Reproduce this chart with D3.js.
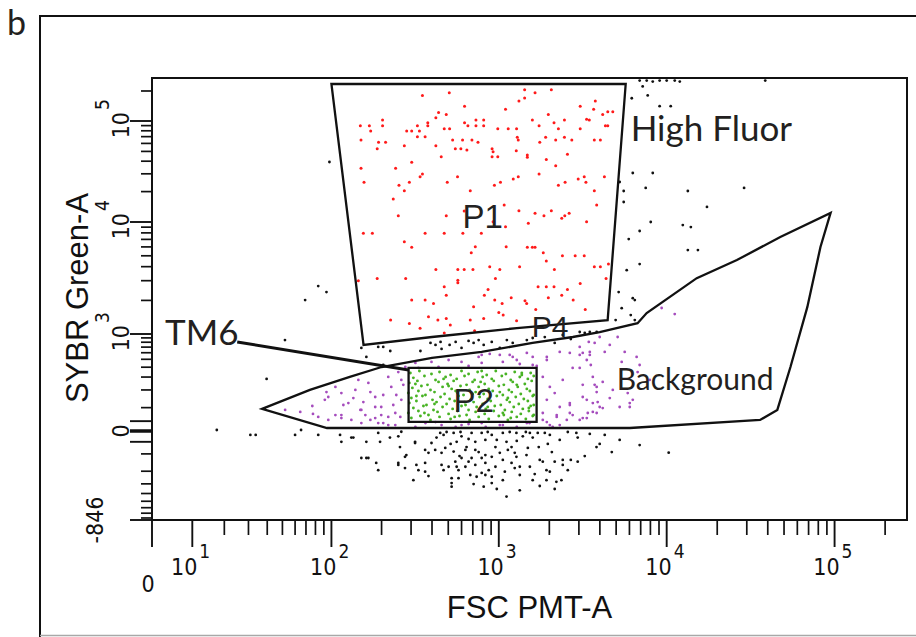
<!DOCTYPE html>
<html>
<head>
<meta charset="utf-8">
<script src="https://cdn.jsdelivr.net/npm/d3@7"></script>
<style>
  html, body { margin: 0; padding: 0; background: #fff; }
  svg { display: block; }
</style>
</head>
<body>
<svg id="chart" width="916" height="637"></svg>
<script>
// ---------------- data ----------------
// Axis ticks (FSC PMT-A, SYBR Green-A)
const xMajorTicks = [0, 10, 100, 1000, 10000, 100000];
const xTickExponents = [null, 1, 2, 3, 4, 5];
const yMajorTicks = [-846, 0, 1000, 10000, 100000];
const yTickExponents = [null, null, 3, 4, 5];
const yTickPlainLabels = ["-846", "0", null, null, null];
const yLongTicks = [40, -45];

// Gates: [FSC, SYBR]
const gateP1 = [[100, 235000], [5700, 235000], [4450, 1330], [1280, 1130], [400, 922], [156, 743]];
const gateP2 = [[290, 392], [1680, 392], [1680, 37], [290, 37]];
const gateP4 = [[37, 94], [74, 200], [129, 301], [200, 402], [400, 519], [790, 613], [1590, 785],
  [2760, 922], [3990, 1040], [6710, 1250], [7600, 1540], [15100, 3160], [26200, 4580], [47500, 7350],
  [94700, 12300], [82400, 5990], [68800, 1740], [54600, 402], [45600, 89], [36000, 45], [6030, 12],
  [94, 12]];
const tm6Leader = [[25, 807], [290, 370]];

// P1 (High Fluor) events: [log10 FSC, log10 SYBR]
const p1Events = [
  [2.545,5.257],[2.705,5.284],[3.154,5.314],[3.216,5.284],[3.313,5.314],[3.120,5.201],[3.154,5.231],
  [2.796,5.149],[3.040,5.119],[3.485,5.149],[3.575,5.201],[2.641,5.086],[2.687,5.066],[2.625,5.033],
  [3.295,5.066],[3.565,5.119],[3.619,5.066],[3.649,5.092],[3.679,5.092],[3.523,5.017],[3.539,5.010],
  [2.174,4.954],[2.228,4.954],[2.307,5.010],[2.307,4.954],[2.515,4.954],[2.577,4.983],[2.577,4.954],
  [2.675,4.924],[2.707,4.924],[2.796,4.983],[2.816,4.954],[2.864,5.010],[2.864,4.954],[2.910,5.010],
  [2.910,4.954],[2.994,4.924],[3.056,4.924],[3.106,4.924],[3.200,5.010],[3.240,4.954],[3.329,4.983],
  [3.391,5.010],[3.355,4.924],[3.485,4.924],[3.635,4.954],[3.649,4.954],[2.236,4.901],[2.451,4.901],
  [2.481,4.901],[2.527,4.901],[2.515,4.845],[2.561,4.845],[2.283,4.789],[2.325,4.789],[2.275,4.726],
  [2.178,4.812],[2.437,4.756],[2.625,4.756],[2.725,4.812],[2.784,4.812],[2.741,4.726],[2.774,4.726],
  [2.810,4.713],[2.840,4.812],[2.876,4.789],[3.110,4.838],[3.116,4.812],[2.960,4.726],[2.966,4.696],
  [3.244,4.789],[3.279,4.838],[3.339,4.812],[3.391,4.838],[3.435,4.812],[3.569,4.812],[3.605,4.812],
  [3.104,4.706],[3.170,4.663],[3.170,4.640],[2.657,4.647],[2.960,4.647],[2.994,4.647],[3.283,4.620],
  [3.409,4.670],[2.178,4.531],[2.385,4.531],[2.481,4.591],[2.545,4.475],[2.531,4.449],[2.196,4.393],
  [2.467,4.393],[2.405,4.363],[2.437,4.310],[2.693,4.393],[2.754,4.449],[2.974,4.363],[3.010,4.393],
  [3.086,4.426],[3.116,4.449],[3.240,4.475],[3.339,4.558],[3.355,4.363],[3.395,4.393],[3.473,4.426],
  [3.509,4.449],[3.519,4.393],[3.629,4.449],[3.569,4.310],[2.371,4.228],[2.830,4.310],[3.032,4.168],
  [3.583,4.168],[2.401,4.063],[2.794,4.109],[2.687,4.063],[2.966,4.003],[3.040,3.958],[3.120,4.112],
  [3.176,3.988],[3.216,4.086],[3.269,4.063],[3.313,4.112],[3.375,4.036],[3.393,4.063],[3.419,4.086],
  [3.523,4.003],[2.192,3.899],[2.246,3.899],[2.561,3.899],[2.675,3.899],[2.786,3.899],[2.896,3.899],
  [2.437,3.824],[2.481,3.774],[2.836,3.726],[2.860,3.780],[3.044,3.780],[3.170,3.774],[3.200,3.774],
  [3.216,3.774],[3.265,3.726],[3.379,3.699],[3.455,3.699],[3.509,3.699],[3.283,3.652],[2.625,3.577],
  [2.756,3.577],[2.794,3.577],[2.846,3.577],[2.946,3.601],[3.006,3.577],[3.124,3.601],[3.331,3.577],
  [3.569,3.601],[3.605,3.601],[3.653,3.625],[3.639,3.497],[2.162,3.476],[2.275,3.497],[2.445,3.497],
  [2.756,3.482],[2.756,3.458],[2.980,3.497],[2.675,3.423],[2.936,3.399],[3.234,3.423],[3.283,3.423],
  [3.329,3.423],[3.409,3.399],[3.485,3.452],[2.481,3.304],[2.561,3.304],[2.611,3.274],[2.687,3.348],
  [2.914,3.348],[2.976,3.304],[3.020,3.274],[3.074,3.324],[3.156,3.298],[3.166,3.274],[3.295,3.324],
  [3.375,3.348],[3.443,3.304],[3.515,3.220],[2.850,3.244],[3.000,3.193],[3.026,3.170],[3.106,3.119],
  [3.220,3.220],[2.355,3.125],[2.467,3.095],[2.531,3.051],[2.581,3.155],[2.637,3.125],[2.687,3.140],
  [2.711,3.080],[2.830,3.125],[2.910,3.140],[2.856,3.030],[2.675,3.009]
];

// Ungated events in the upper part: [log10 FSC, log10 SYBR]
const ungatedHighEvents = [
  [3.887,5.257],[4.024,5.149],[3.792,5.228],[3.798,4.485],[3.917,4.485],[4.126,4.307],[3.744,4.307],
  [3.744,4.198],[3.875,4.337],[4.461,4.337],[3.839,3.920],[3.774,3.848],[3.905,4.000],[4.096,3.973],
  [4.144,3.955],[4.126,3.750],[4.186,3.750],[3.839,3.625],[3.762,3.571],[3.714,3.375],[3.798,3.321],
  [3.810,3.304],[3.732,3.232],[3.786,3.170],[4.240,4.149],[3.720,4.396],[3.542,3.018],[3.512,3.009],
  [3.696,3.125],[3.810,3.125],
  [3.839,5.406],[3.881,5.406],[3.917,5.396],[3.958,5.406],[4.000,5.406],[4.048,5.406],[4.078,5.396],
  [4.587,5.406],[3.857,5.347],[3.958,5.149],
  [1.988,4.594],[1.920,3.429],[1.970,3.375],[1.840,3.304],[1.715,2.929],[1.598,2.453],
  [2.180,2.835],[2.281,2.847],[2.311,2.847],[2.353,2.799],[2.533,2.799],[2.593,2.895],[2.623,2.871],
  [2.653,2.907],[2.659,2.824],[2.707,2.871],[2.743,2.907],[2.778,2.835],[2.820,2.918],[2.850,2.895],
  [2.880,2.929],[2.910,2.871],[2.958,2.907],[3.006,2.835],[3.048,2.929],[3.083,2.895],[3.167,2.929],
  [3.202,2.953],[3.274,2.964],[3.333,2.895],[3.381,2.989],[3.429,2.941],[3.482,3.018],[3.583,3.018],
  [2.210,2.728],[2.311,2.629]
];

// P2 (TM6) events: [log10 FSC, SYBR]
const p2Events = [
  [2.473,338],[2.527,359],[2.599,329],[2.647,348],[2.713,319],[2.778,359],[2.820,329],[2.874,348],
  [2.928,319],[2.982,359],[3.042,329],[3.095,348],[3.137,319],[3.190,338],
  [2.491,293],[2.557,310],[2.623,275],[2.683,301],[2.749,284],[2.796,310],[2.856,275],[2.904,301],
  [2.958,284],[3.018,310],[3.071,275],[3.125,301],[3.173,284],[3.208,310],
  [2.467,251],[2.515,267],[2.575,236],[2.641,259],[2.695,243],[2.731,267],[2.808,236],[2.844,259],
  [2.916,243],[2.970,267],[3.030,236],[3.083,259],[3.155,243],[3.196,267],
  [2.485,214],[2.539,228],[2.593,200],[2.665,221],[2.719,207],[2.772,228],[2.826,200],[2.880,221],
  [2.940,207],[3.000,228],[3.060,200],[3.113,221],[3.167,207],
  [2.461,180],[2.521,193],[2.563,168],[2.617,186],[2.677,174],[2.743,193],[2.790,168],[2.862,186],
  [2.910,174],[2.964,193],[3.024,168],[3.077,186],[3.131,174],[3.185,193],[3.208,168],
  [2.479,150],[2.545,162],[2.605,140],[2.653,156],[2.707,145],[2.760,162],[2.832,140],[2.886,156],
  [2.934,145],[2.988,162],[3.048,140],[3.101,156],[3.149,145],[3.202,162],
  [2.467,123],[2.509,134],[2.569,113],[2.629,128],[2.689,118],[2.737,134],[2.802,113],[2.850,128],
  [2.904,118],[2.952,134],[3.012,113],[3.065,128],[3.119,118],[3.173,134],[3.208,113],
  [2.491,98],[2.551,108],[2.611,89],[2.665,103],[2.725,94],[2.778,108],[2.820,89],[2.868,103],
  [2.922,94],[2.976,108],[3.036,89],[3.089,103],[3.143,94],[3.190,108],
  [2.461,75],[2.521,84],[2.581,66],[2.635,80],[2.701,71],[2.754,84],[2.808,66],[2.862,80],
  [2.916,71],[2.970,84],[3.030,66],[3.077,80],[3.131,71],[3.179,84],[3.208,66],
  [2.479,53],[2.533,62],[2.593,45],[2.647,58],[2.713,49],[2.766,62],[2.826,45],[2.880,58],
  [2.940,49],[3.000,62],[3.054,45],[3.107,58],[3.161,49],[3.202,62],
  [2.503,243],[2.671,284],[2.754,180],[2.892,259],[3.006,186],[3.107,236],[3.054,150],[2.934,103],
  [2.796,128],[2.617,118],[2.557,75],[3.024,75],[3.137,338],[2.844,174],[2.701,228],[3.179,98],
  [2.737,58],[2.898,359],[2.509,162],[3.071,53]
];

// P4 (Background) events: [log10 FSC, SYBR]
const p4Events = [
  [1.884,108],[1.888,71],[1.981,156],[1.970,186],[2.024,221],[2.060,180],[2.102,123],[2.144,200],
  [2.162,275],[2.222,251],[2.263,156],[2.180,89],[2.299,103],[2.341,301],[2.359,221],[2.383,75],
  [2.341,58],[2.419,275],[2.419,140],[2.413,58],[2.180,32],[2.281,32],[2.341,24],[2.060,53],
  [2.120,45],[1.920,58],[2.024,66],
  [3.262,301],[3.304,221],[3.333,180],[3.286,140],[3.363,103],[3.423,123],[3.500,156],[3.560,123],
  [3.423,75],[3.482,45],[3.345,58],[3.286,36],[3.321,16],[3.440,392],[3.524,490],[3.363,613],
  [3.482,703],[3.286,490],[3.560,301],[3.583,221],[3.381,275],[3.202,426],[3.107,490],[3.024,464],
  [2.898,451],[2.778,464],[2.701,490],[2.599,464],[2.503,451],[2.443,403],[2.880,534],[3.065,565],
  [3.167,597],[2.946,580],
  [2.503,16],[2.563,32],[2.659,24],[2.743,16],[2.820,28],[2.922,16],[3.006,24],[3.107,16],
  [3.167,32],[2.623,36],
  [3.970,1710],[4.048,1510],[3.708,922],[3.601,922],[3.571,785],[3.500,597],[3.542,613],[3.631,613],
  [3.732,464],[3.821,534],[3.827,348],[3.482,392],[3.548,426],[3.500,236],[3.571,236],[3.619,259],
  [3.679,200],[3.583,186],[3.524,140],[3.589,128],[3.661,150],[3.768,180],[3.798,140],[3.780,103],
  [3.619,98],[3.583,75],[3.530,75],[3.524,53],
  [2.060,66],[2.174,89],[2.204,66],[2.263,53],[2.299,66],[2.371,113],[2.263,103],[2.311,32],
  [2.383,24],[2.778,24],[2.898,32],[3.024,24],[3.183,32],[3.262,45],[3.304,24],[3.363,24],
  [3.405,45],[3.262,75],[3.345,66],[3.423,113],[3.440,66],[3.500,53],[3.560,80],[3.601,103],
  [3.720,103],[3.780,123],[3.536,807],[3.423,597],[3.482,565],[3.542,565],[3.202,534],[3.286,534],
  [3.006,565],[3.083,534],[2.898,565],
  [1.960,140],[2.072,113],[2.132,150],[2.234,186],[2.311,168],[2.192,128],[2.389,168],[1.810,80],
  [1.716,89],[1.981,45],[2.234,45],[2.431,236],[2.401,348],[2.521,392],[2.641,403],[2.820,414],
  [3.125,438],[3.226,414],[3.661,743],[3.750,613],[3.839,426],[3.899,275]
];

// Ungated events near and below zero: [log10 FSC, SYBR]
const ungatedLowEvents = [
  [2.052,-16],[2.060,-45],[2.132,-27],[2.210,-45],[2.281,-8],[2.292,-45],[2.351,-27],[2.401,-22],
  [2.411,-68],[2.449,-106],[2.501,-45],[2.401,-148],[2.441,-179],[2.509,-160],[2.561,-148],
  [2.521,-193],[2.561,-203],[2.180,-121],[2.210,-121],[2.269,-148],[2.281,-193],[2.491,-268],
  [2.651,-8],[2.671,-16],[2.731,-8],[2.749,-45],[2.778,-22],[2.808,-68],[2.838,-8],[2.860,-45],
  [2.898,-8],[2.920,-37],[2.958,-16],[2.980,-68],[3.024,-8],[3.046,-45],[3.076,-68],[3.105,-8],
  [3.143,-22],[3.185,-8],[3.232,-8],[3.238,-68],[3.304,-16],[3.363,-37],[3.462,-8],[3.470,-27],
  [3.582,-68],
  [2.599,-50],[2.621,-81],[2.681,-72],[2.731,-89],[2.801,-81],[2.860,-81],[2.920,-106],[2.581,-95],
  [2.659,-95],[2.741,-141],[2.778,-121],[2.838,-121],[2.898,-121],[2.958,-115],[3.006,-95],
  [3.024,-131],[3.095,-95],[3.105,-115],[3.165,-106],[3.244,-131],[3.262,-141],[3.333,-141],
  [3.381,-131],[3.470,-141],
  [2.659,-160],[2.701,-171],[2.749,-171],[2.801,-171],[2.860,-160],[2.920,-148],[2.980,-171],
  [3.036,-203],[3.076,-148],[3.125,-171],[3.185,-171],[3.284,-193],[3.381,-160],
  [2.719,-251],[2.760,-251],[2.830,-227],[2.868,-240],[2.920,-227],[2.958,-240],[3.024,-268],
  [3.125,-227],[3.202,-268],[3.284,-268],[3.343,-282],[3.373,-268],[2.719,-327],[2.910,-327],
  [2.958,-293],[2.988,-350],[3.046,-437],[3.333,-350],[3.304,-203],[3.429,-131],
  [1.240,4],[1.490,-16],[1.526,-16],[1.778,-16],[1.815,4],[1.920,-16],[2.120,-27],[2.419,-3],
  [2.222,-121],[2.401,-160],[2.441,-115],[2.501,-50],[2.561,-81],[2.719,-293],[2.760,-193],
  [2.898,-212],[3.720,-37],[3.631,-16],[3.839,-59],[4.012,-94],[3.673,-91],
  [2.689,-4],[2.772,-4],[2.934,-4],[3.065,-4],[3.161,-4],[3.274,-8],[3.411,-4],[3.542,-12],
  [2.629,-27],[2.713,-54],[2.820,-33],[2.988,-37],[3.107,-41],[3.202,-27],[3.292,-54],[2.766,-111],
  [2.880,-91],[3.054,-81],[3.173,-72],[3.316,-91],[2.820,-141],[2.940,-193],[3.095,-179],
  [3.214,-220],[2.850,-302],[3.125,-364],[3.244,-320],[2.671,-193],[2.581,-235],[3.411,-193],
  [3.512,-111],[3.601,-54]
];

// ---------------- scales ----------------
// Biexponential display: arcsinh transform followed by (poly)linear D3 scales.
const X_COFACTOR = 17.2, Y_COFACTOR = 150;
const X_MAX = 270000, Y_MAX = 270000, Y_MIN = -846;
const xT = v => Math.asinh(v / X_COFACTOR);
const yT = v => Math.asinh(v / Y_COFACTOR);

const plot = { left: 152, right: 907, top: 78, bottom: 520 };
const xScale = d3.scaleLinear().domain([xT(0), xT(X_MAX)]).range([plot.left, plot.right]);
const yScale = d3.scaleLinear()
  .domain([yT(Y_MIN), yT(0), yT(1e3), yT(1e4), yT(1e5), yT(Y_MAX)])
  .range([plot.bottom, 431, 334, 222, 121, plot.top]);
const x = v => xScale(xT(v));
const y = v => yScale(yT(v));

const fromDecades = d => [Math.pow(10, d[0]), Math.pow(10, d[1])];
const fromDecadeX = d => [Math.pow(10, d[0]), d[1]];

// ---------------- drawing ----------------
const svg = d3.select("#chart");
const AXIS_FONT = "'Liberation Sans Narrow', 'Arial Narrow', 'DejaVu Sans Condensed', sans-serif";
const TITLE_FONT = "'Liberation Sans', Arial, sans-serif";
const NOTE_FONT = "Lato, 'Open Sans', sans-serif";

// figure frame and panel letter
svg.append("line").attr("x1", 40).attr("x2", 40).attr("y1", 15).attr("y2", 637)
  .attr("stroke", "#111").attr("stroke-width", 2);
svg.append("line").attr("x1", 39).attr("x2", 916).attr("y1", 16).attr("y2", 16)
  .attr("stroke", "#111").attr("stroke-width", 2);
svg.append("line").attr("x1", 40).attr("x2", 916).attr("y1", 635.5).attr("y2", 635.5)
  .attr("stroke", "#a8a8a8").attr("stroke-width", 1.5);
svg.append("text").attr("x", 7).attr("y", 35).text("b")
  .attr("font-family", NOTE_FONT).attr("font-size", 34).attr("fill", "#231f20");

const dotsLayer = svg.append("g");
function drawEvents(data, convert, color, r) {
  dotsLayer.append("g").selectAll("circle")
    .data(data.map(convert))
    .join("circle")
    .attr("cx", d => x(d[0]))
    .attr("cy", d => y(d[1]))
    .attr("r", r)
    .attr("fill", color);
}
drawEvents(ungatedHighEvents, fromDecades, "#111", 1.4);
drawEvents(ungatedLowEvents, fromDecadeX, "#111", 1.4);
drawEvents(p4Events, fromDecadeX, "#a54cbd", 1.4);
drawEvents(p2Events, fromDecadeX, "#48b324", 1.45);
drawEvents(p1Events, fromDecades, "#ff1a1a", 1.5);

// gates
const gateLine = d3.line().x(d => x(d[0])).y(d => y(d[1])).curve(d3.curveLinearClosed);
const gatesLayer = svg.append("g").attr("fill", "none").attr("stroke", "#111")
  .attr("stroke-width", 2.3).attr("stroke-linejoin", "miter");
[gateP1, gateP2, gateP4].forEach(gate => gatesLayer.append("path").attr("d", gateLine(gate)));

svg.append("path")
  .attr("d", d3.line().x(d => x(d[0])).y(d => y(d[1]))(tm6Leader))
  .attr("stroke", "#111").attr("stroke-width", 3).attr("fill", "none");

// gate names
const gateNames = [
  { text: "P1", at: [608, 8840], size: 33 },
  { text: "P2", at: [538, 80], size: 33 },
  { text: "P4", at: [1570, 922], size: 30 }
];
svg.append("g").selectAll("text").data(gateNames).join("text")
  .attr("x", d => x(d.at[0])).attr("y", d => y(d.at[1]))
  .attr("font-family", TITLE_FONT).attr("font-size", d => d.size)
  .attr("fill", "#222").text(d => d.text);

// annotations
const notes = [
  { text: "High Fluor", at: [6100, 63400], size: 35 },
  { text: "TM6", at: [3.1, 743], size: 35 },
  { text: "Background", at: [5040, 200], size: 30 }
];
svg.append("g").selectAll("text").data(notes).join("text")
  .attr("x", d => x(d.at[0])).attr("y", d => y(d.at[1]))
  .attr("font-family", NOTE_FONT).attr("font-size", d => d.size)
  .attr("fill", "#231f20").text(d => d.text);

// ---------------- axes ----------------
const axes = svg.append("g").attr("stroke", "#111");
axes.append("rect")
  .attr("x", plot.left).attr("y", plot.top)
  .attr("width", plot.right - plot.left).attr("height", plot.bottom - plot.top)
  .attr("fill", "none").attr("stroke-width", 2);

// x ticks
const xMinor = [];
for (let e = 1; e <= 5; e++) for (let m = 2; m <= 9; m++) if (m * 10 ** e <= X_MAX) xMinor.push(m * 10 ** e);
axes.selectAll(".xminor").data(xMinor).join("line")
  .attr("x1", d => x(d)).attr("x2", d => x(d))
  .attr("y1", plot.bottom).attr("y2", plot.bottom + 15).attr("stroke-width", 1.7);
axes.selectAll(".xmajor").data(xMajorTicks).join("line")
  .attr("x1", d => x(d)).attr("x2", d => x(d))
  .attr("y1", plot.bottom).attr("y2", plot.bottom + 27).attr("stroke-width", 1.9);

// y ticks
const yMinor = [];
for (let e = 3; e <= 5; e++) for (let m = 2; m <= 9; m++) if (m * 10 ** e <= Y_MAX) yMinor.push(m * 10 ** e);
for (let m = 1; m <= 9; m++) yMinor.push(m * 100);
for (let m = 1; m <= 8; m++) yMinor.push(-m * 100);
axes.selectAll(".yminor").data(yMinor).join("line")
  .attr("x1", plot.left - 11).attr("x2", plot.left)
  .attr("y1", d => y(d)).attr("y2", d => y(d)).attr("stroke-width", 1.7);
axes.selectAll(".ymajor").data(yMajorTicks.concat(yLongTicks)).join("line")
  .attr("x1", plot.left - 22).attr("x2", plot.left)
  .attr("y1", d => y(d)).attr("y2", d => y(d))
  .attr("stroke-width", d => d === 0 ? 3.5 : 1.9);

// tick labels
const labels = svg.append("g").attr("font-family", AXIS_FONT).attr("fill", "#111");
xMajorTicks.forEach((v, i) => {
  const e = xTickExponents[i];
  if (e === null) {
    labels.append("text").attr("x", x(v) - 4).attr("y", 592)
      .attr("text-anchor", "middle").attr("font-size", 23).text("0");
  } else {
    labels.append("text").attr("x", x(v) + 5).attr("y", 575)
      .attr("text-anchor", "end").attr("font-size", 23).text("10");
    labels.append("text").attr("x", x(v) + 7).attr("y", 558)
      .attr("font-size", 19).text(e);
  }
});
yMajorTicks.forEach((v, i) => {
  const e = yTickExponents[i];
  if (e === null) {
    const bx = v === 0 ? 129 : 103;
    labels.append("text")
      .attr("transform", `translate(${bx},${y(v)}) rotate(-90)`)
      .attr("text-anchor", "middle").attr("font-size", 23).text(yTickPlainLabels[i]);
  } else {
    const gl = labels.append("g").attr("transform", `translate(129,${y(v)}) rotate(-90)`);
    gl.append("text").attr("x", 9).attr("y", 0).attr("text-anchor", "end")
      .attr("font-size", 23).text("10");
    gl.append("text").attr("x", 11).attr("y", -20).attr("font-size", 19).text(e);
  }
});

// axis titles
svg.append("text").attr("x", (plot.left + plot.right) / 2).attr("y", 618)
  .attr("text-anchor", "middle").attr("font-family", TITLE_FONT).attr("font-size", 31)
  .attr("fill", "#111").text("FSC PMT-A");
svg.append("text").attr("transform", "translate(88,298) rotate(-90)")
  .attr("text-anchor", "middle").attr("font-family", TITLE_FONT).attr("font-size", 31)
  .attr("fill", "#111").text("SYBR Green-A");
</script>
</body>
</html>
